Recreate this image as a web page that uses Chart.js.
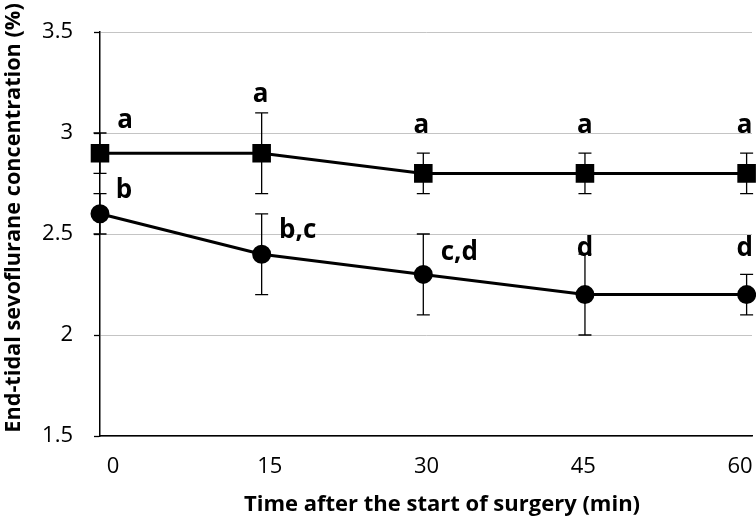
<!DOCTYPE html>
<html>
<head>
<meta charset="utf-8">
<script src="https://cdn.jsdelivr.net/npm/chart.js@4.4.0/dist/chart.umd.min.js"></script>
<style>
    html, body { margin: 0; padding: 0; background: #fff; }
    #grafico { display: block; }
</style>
</head>
<body>
<canvas id="grafico" width="756" height="520"></canvas>
<script>
// Datos
const tiempoMin = [0, 15, 30, 45, 60];
const ticksY = [1.5, 2, 2.5, 3, 3.5];

const serieCuadros = [2.9, 2.9, 2.8, 2.8, 2.8];
const errorCuadros = [0.1, 0.2, 0.1, 0.1, 0.1];
const letrasCuadros = ['a', 'a', 'a', 'a', 'a'];

const serieCirculos = [2.6, 2.4, 2.3, 2.2, 2.2];
const errorCirculos = [0.1, 0.2, 0.2, 0.2, 0.1];
const letrasCirculos = ['b', 'b,c', 'c,d', 'd', 'd'];

const tituloX = 'Time after the start of surgery (min)';
const tituloY = 'End-tidal sevoflurane concentration (%)';

// Desplazamientos (px) de las letras respecto a cada punto
const offsetsCuadros = [[25, -25], [-1, -51], [-2, -40], [0, -40], [-2, -40]];
const offsetsCirculos = [[24, -16], [36, -16], [36, -14], [0, -39], [-2, -39]];

Chart.defaults.font.family = "'Open Sans', sans-serif";
Chart.defaults.color = '#000';

// Barras de error dibujadas con las escalas del grafico
const pluginErrores = {
    id: 'errores',
    beforeDatasetsDraw(chart) {
        const ctx = chart.ctx;
        const x = chart.scales.x;
        const y = chart.scales.y;
        ctx.save();
        ctx.strokeStyle = '#000';
        ctx.lineWidth = 1.3;
        chart.data.datasets.forEach(ds => {
            ds.data.forEach((p, i) => {
                const e = ds.errores[i];
                const px = x.getPixelForValue(p.x);
                const top = y.getPixelForValue(p.y + e);
                const bot = y.getPixelForValue(p.y - e);
                ctx.beginPath();
                ctx.moveTo(px, top); ctx.lineTo(px, bot);
                ctx.moveTo(px - 6.5, top); ctx.lineTo(px + 6.5, top);
                ctx.moveTo(px - 6.5, bot); ctx.lineTo(px + 6.5, bot);
                ctx.stroke();
            });
        });
        ctx.restore();
    }
};

// Letras de significancia y titulos de ejes
const pluginTextos = {
    id: 'textos',
    afterDraw(chart) {
        const ctx = chart.ctx;
        const x = chart.scales.x;
        const y = chart.scales.y;
        ctx.save();
        ctx.fillStyle = '#000';
        ctx.textAlign = 'center';
        ctx.textBaseline = 'alphabetic';
        ctx.font = "bold 26px 'Open Sans'";
        chart.data.datasets.forEach(ds => {
            ds.data.forEach((p, i) => {
                const px = x.getPixelForValue(p.x) + ds.offsets[i][0];
                const py = y.getPixelForValue(p.y) + ds.offsets[i][1];
                ctx.fillText(ds.letras[i], px, py);
            });
        });

        ctx.font = "bold 22px 'Open Sans'";
        ctx.fillText(tituloX, 442, 511);
        ctx.font = "bold 21.7px 'Open Sans'";
        ctx.translate(20, 218);
        ctx.rotate(-Math.PI / 2);
        ctx.fillText(tituloY, 0, 0);
        ctx.restore();
    }
};

function puntos(valores) {
    return tiempoMin.map((t, i) => ({ x: t, y: valores[i] }));
}

const ctx = document.getElementById('grafico').getContext('2d');
const grafico = new Chart(ctx, {
    type: 'line',
    data: {
        datasets: [{
            label: 'Serie 1',
            data: puntos(serieCuadros),
            errores: errorCuadros,
            letras: letrasCuadros,
            offsets: offsetsCuadros,
            borderColor: '#000',
            backgroundColor: '#000',
            borderWidth: 3,
            pointStyle: 'rect',
            pointRadius: 11,
            pointHoverRadius: 11,
            tension: 0,
            clip: false
        }, {
            label: 'Serie 2',
            data: puntos(serieCirculos),
            errores: errorCirculos,
            letras: letrasCirculos,
            offsets: offsetsCirculos,
            borderColor: '#000',
            backgroundColor: '#000',
            borderWidth: 3,
            pointStyle: 'circle',
            pointRadius: 8,
            pointHoverRadius: 8,
            tension: 0,
            clip: false
        }]
    },
    options: {
        responsive: false,
        animation: false,
        devicePixelRatio: 1,
        layout: {
            autoPadding: false,
            padding: { top: 32, right: 4, bottom: 0, left: 0 }
        },
        plugins: {
            legend: { display: false },
            tooltip: { enabled: false }
        },
        scales: {
            x: {
                type: 'linear',
                position: 'bottom',
                weight: 0,
                min: 0,
                max: 60.5,
                grid: { display: false, drawTicks: false },
                border: { display: true, color: '#000', width: 1.5 },
                ticks: { display: false, padding: 0 },
                afterBuildTicks: s => { s.ticks = tiempoMin.map(v => ({ value: v })); },
                afterFit: s => { s.height = 0; s.paddingLeft = 0; s.paddingRight = 0; }
            },
            xEtiquetas: {
                type: 'linear',
                position: 'bottom',
                weight: 1,
                min: -1.244,
                max: 61.15,
                grid: { display: false, drawTicks: true, tickLength: 18 },
                border: { display: false },
                ticks: {
                    padding: 0,
                    font: { size: 22 },
                    color: '#000',
                    maxRotation: 0
                },
                afterBuildTicks: s => { s.ticks = tiempoMin.map(v => ({ value: v })); },
                afterFit: s => { s.height = 84; s.paddingLeft = 0; s.paddingRight = 0; }
            },
            y: {
                type: 'linear',
                min: 1.5,
                max: 3.5,
                grid: {
                    color: '#c4c4c4',
                    lineWidth: 1,
                    tickColor: '#000',
                    tickLength: 6,
                    tickWidth: 1.3
                },
                border: { display: true, color: '#000', width: 1.5 },
                ticks: {
                    padding: 21,
                    font: { size: 22 },
                    color: '#000',
                    callback: v => String(v)
                },
                afterBuildTicks: s => { s.ticks = ticksY.map(v => ({ value: v })); },
                afterFit: s => { s.width = 100; s.paddingTop = 0; s.paddingBottom = 0; }
            }
        }
    },
    plugins: [pluginErrores, pluginTextos]
});
</script>
</body>
</html>
